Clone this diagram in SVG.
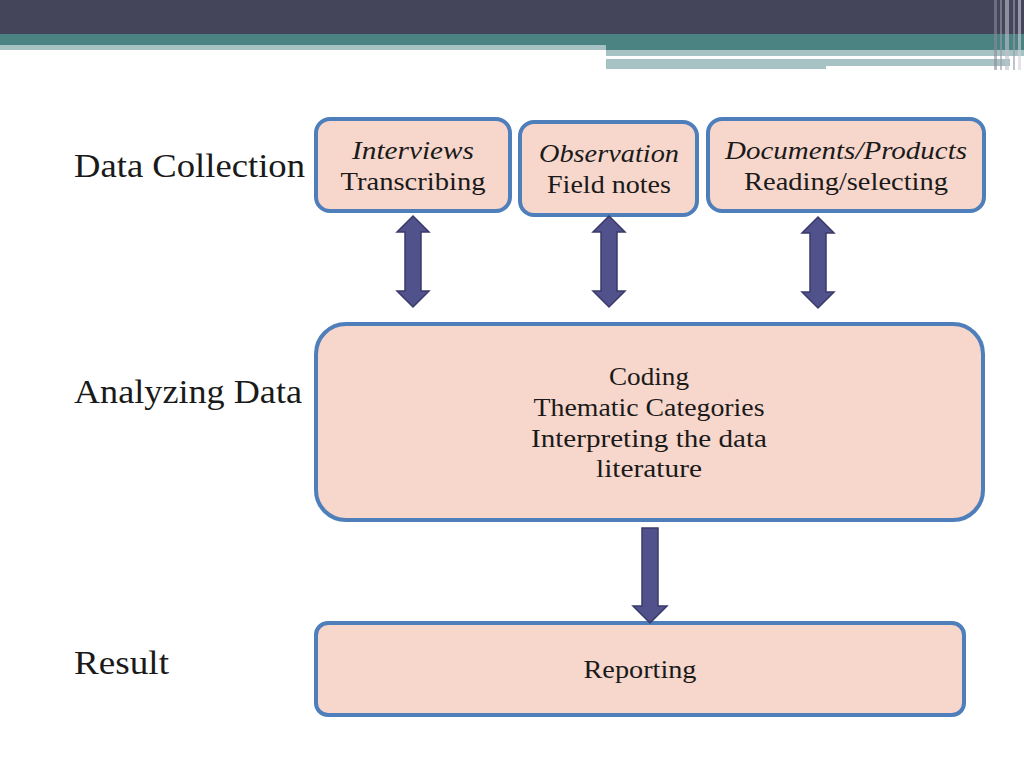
<svg xmlns="http://www.w3.org/2000/svg" width="1024" height="768" viewBox="0 0 1024 768">
<style>
.box{fill:#f7d6cc;stroke:#4f7fba;stroke-width:4}
.lbl{font-family:"Liberation Serif",serif;font-size:33px;fill:#1a1a1a}
.t{font-family:"Liberation Serif",serif;font-size:25px;fill:#1a1a1a;text-anchor:middle}
.i{font-style:italic}
.arr{fill:#51518c;stroke:#3a3a6a;stroke-width:1.5}
</style>
<rect width="1024" height="768" fill="#ffffff"/>
<g id="banner">
<rect x="0" y="0" width="1024" height="34" fill="#44455a"/>
<rect x="0" y="34" width="1024" height="11" fill="#4b8282"/>
<rect x="0" y="45" width="606" height="5" fill="#a7c2c2"/>
<rect x="606" y="45" width="418" height="5" fill="#4b8282"/>
<rect x="606" y="50" width="418" height="6" fill="#a7c2c2"/>
<rect x="606" y="56" width="342" height="3" fill="#ffffff"/>
<rect x="606" y="59" width="404" height="7" fill="#a7c2c2"/>
<rect x="606" y="66" width="220" height="3" fill="#a7c2c2"/>
<rect x="994" y="0" width="3" height="70" fill="#8a8a9a" opacity="0.6"/>
<rect x="1000" y="0" width="2" height="70" fill="#9a9aaa" opacity="0.6"/>
<rect x="1005" y="0" width="4" height="70" fill="#c0c0cc" opacity="0.6"/>
<rect x="1013" y="0" width="2" height="70" fill="#9a9aaa" opacity="0.6"/>
<rect x="1018" y="0" width="3" height="70" fill="#d0d0d8" opacity="0.6"/>
</g>
<g id="labels">
<text class="lbl" x="74" y="177" textLength="231" lengthAdjust="spacingAndGlyphs">Data Collection</text>
<text class="lbl" x="74" y="403" textLength="228" lengthAdjust="spacingAndGlyphs">Analyzing Data</text>
<text class="lbl" x="74" y="674" textLength="95" lengthAdjust="spacingAndGlyphs">Result</text>
</g>
<g id="interviews">
<rect class="box" x="316" y="119" width="194" height="92" rx="14"/>
<text class="t i" x="413" y="159" textLength="122" lengthAdjust="spacingAndGlyphs">Interviews</text>
<text class="t" x="413" y="190" textLength="145" lengthAdjust="spacingAndGlyphs">Transcribing</text>
</g>
<g id="observation">
<rect class="box" x="520" y="122" width="177" height="93" rx="14"/>
<text class="t i" x="609" y="162" textLength="140" lengthAdjust="spacingAndGlyphs">Observation</text>
<text class="t" x="609" y="193" textLength="124" lengthAdjust="spacingAndGlyphs">Field notes</text>
</g>
<g id="documents">
<rect class="box" x="708" y="119" width="276" height="92" rx="14"/>
<text class="t i" x="846" y="159" textLength="242" lengthAdjust="spacingAndGlyphs">Documents/Products</text>
<text class="t" x="846" y="190" textLength="204" lengthAdjust="spacingAndGlyphs">Reading/selecting</text>
</g>
<g id="analyzing">
<rect class="box" x="316" y="324" width="667" height="196" rx="30"/>
<text class="t" x="649" y="385" textLength="80" lengthAdjust="spacingAndGlyphs">Coding</text>
<text class="t" x="649" y="416" textLength="231" lengthAdjust="spacingAndGlyphs">Thematic Categories</text>
<text class="t" x="649" y="447" textLength="236" lengthAdjust="spacingAndGlyphs">Interpreting the data</text>
<text class="t" x="649" y="477" textLength="106" lengthAdjust="spacingAndGlyphs">literature</text>
</g>
<g id="reporting">
<rect class="box" x="316" y="623" width="648" height="92" rx="12"/>
<text class="t" x="640" y="678" textLength="113" lengthAdjust="spacingAndGlyphs">Reporting</text>
</g>
<g id="connectors">
<path class="arr" d="M413 216 L429 232 L421 232 L421 291 L429 291 L413 307 L397 291 L405 291 L405 232 L397 232 Z"/>
<path class="arr" d="M609 216 L625 232 L617 232 L617 291 L625 291 L609 307 L593 291 L601 291 L601 232 L593 232 Z"/>
<path class="arr" d="M818 217 L834 233 L826 233 L826 292 L834 292 L818 308 L802 292 L810 292 L810 233 L802 233 Z"/>
<path class="arr" d="M642 528 L658 528 L658 606 L667 606 L650 623 L633 606 L642 606 Z"/>
</g>
</svg>
